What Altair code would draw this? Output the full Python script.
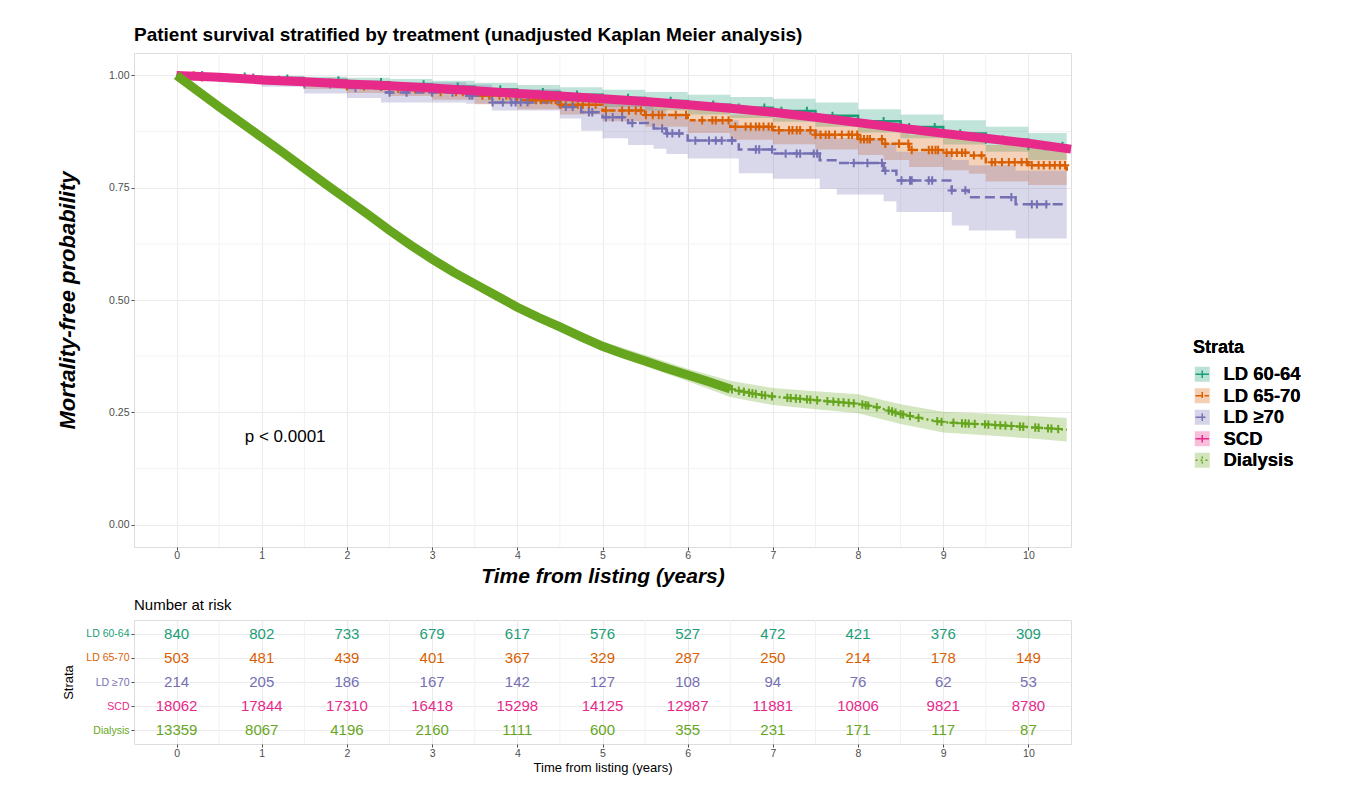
import altair as alt
import pandas as pd
import numpy as np

FONT = "Liberation Sans"
strata = ["LD 60-64", "LD 65-70", "LD ≥70", "SCD", "Dialysis"]
palette = ["#1B9E77", "#D95F02", "#7570B3", "#E7298A", "#66A61E"]
dashes = [[1, 0], [6, 3], [10, 5], [1, 0], [2, 3]]

# ---- survival curves ----
ld60_t = [0, 0.5, 1, 1.5, 2, 2.5, 3, 3.5, 4, 4.5, 5, 5.5, 6, 6.5, 7, 7.5, 8, 8.5, 9, 9.5, 10, 10.45]
ld60_s = [1.0, 0.997, 0.993, 0.989, 0.985, 0.98, 0.975, 0.969, 0.963, 0.957, 0.95, 0.943, 0.935, 0.928, 0.921, 0.91, 0.898, 0.885, 0.871, 0.857, 0.843, 0.83]
ld60_lo = [1.0, 0.993, 0.986, 0.98, 0.975, 0.969, 0.962, 0.955, 0.947, 0.94, 0.93, 0.922, 0.913, 0.905, 0.897, 0.886, 0.873, 0.86, 0.846, 0.83, 0.812, 0.798]
ld60_hi = [1.0, 1.0, 0.999, 0.997, 0.995, 0.992, 0.988, 0.984, 0.979, 0.974, 0.968, 0.963, 0.957, 0.952, 0.948, 0.94, 0.925, 0.913, 0.9, 0.886, 0.872, 0.862]

ld65_t = [0, 0.3, 0.6, 1, 1.5, 2, 2.5, 3, 3.5, 4, 4.5, 5, 5.5, 6, 6.5, 7, 7.5, 8, 8.3, 8.6, 9, 9.3, 9.5, 10, 10.45]
ld65_s = [1.0, 0.996, 0.993, 0.99, 0.984, 0.976, 0.97, 0.963, 0.955, 0.945, 0.935, 0.922, 0.912, 0.9, 0.886, 0.878, 0.868, 0.858, 0.848, 0.834, 0.828, 0.822, 0.807, 0.8, 0.788]
ld65_lo = [1.0, 0.99, 0.985, 0.98, 0.97, 0.961, 0.954, 0.946, 0.936, 0.925, 0.913, 0.898, 0.886, 0.872, 0.857, 0.847, 0.835, 0.823, 0.812, 0.796, 0.789, 0.781, 0.764, 0.756, 0.742]
ld65_hi = [1.0, 1.0, 0.999, 0.997, 0.993, 0.988, 0.983, 0.978, 0.971, 0.963, 0.954, 0.944, 0.935, 0.925, 0.913, 0.906, 0.898, 0.89, 0.881, 0.868, 0.863, 0.858, 0.845, 0.84, 0.83]

ld70_t = [0, 0.5, 1, 1.5, 2, 2.4, 3.4, 3.7, 4.5, 4.75, 5, 5.3, 5.6, 5.75, 6, 6.6, 7, 7.55, 7.75, 8.3, 8.45, 9.1, 9.3, 9.85, 10.45]
ld70_s = [1.0, 0.995, 0.99, 0.98, 0.972, 0.962, 0.955, 0.94, 0.93, 0.918, 0.907, 0.894, 0.882, 0.871, 0.855, 0.835, 0.826, 0.811, 0.805, 0.788, 0.766, 0.744, 0.729, 0.713, 0.713]
ld70_lo = [1.0, 0.985, 0.975, 0.96, 0.95, 0.94, 0.937, 0.922, 0.904, 0.877, 0.86, 0.845, 0.837, 0.825, 0.815, 0.782, 0.77, 0.748, 0.735, 0.72, 0.696, 0.666, 0.655, 0.637, 0.637]
ld70_hi = [1.0, 1.0, 0.999, 0.995, 0.99, 0.985, 0.98, 0.97, 0.962, 0.953, 0.945, 0.935, 0.925, 0.915, 0.9, 0.885, 0.878, 0.865, 0.86, 0.848, 0.83, 0.812, 0.8, 0.788, 0.788]

scd_t = [0, 0.5, 1, 1.5, 2, 2.5, 3, 3.5, 4, 4.5, 5, 5.5, 6, 6.5, 7, 7.5, 8, 8.5, 9, 9.5, 10, 10.5]
scd_s = [1.0, 0.996, 0.99, 0.986, 0.981, 0.977, 0.972, 0.966, 0.96, 0.954, 0.948, 0.942, 0.935, 0.927, 0.918, 0.907, 0.895, 0.883, 0.871, 0.86, 0.849, 0.836]
scd_lo = [1.0, 0.995, 0.988, 0.984, 0.979, 0.974, 0.969, 0.963, 0.957, 0.951, 0.944, 0.938, 0.931, 0.922, 0.913, 0.902, 0.89, 0.877, 0.865, 0.853, 0.842, 0.828]
scd_hi = [1.0, 0.997, 0.992, 0.988, 0.983, 0.98, 0.975, 0.969, 0.963, 0.957, 0.952, 0.946, 0.939, 0.932, 0.923, 0.912, 0.9, 0.889, 0.877, 0.867, 0.856, 0.844]

dia_t = [0, 0.25, 0.5, 0.75, 1, 1.25, 1.5, 1.75, 2, 2.25, 2.5, 2.75, 3, 3.25, 3.5, 3.75, 4, 4.25, 4.5, 4.75, 5, 5.25, 5.5, 5.75, 6, 6.25, 6.5, 6.75, 7, 7.25, 7.5, 7.75, 8, 8.25, 8.5, 8.75, 9, 9.25, 9.5, 9.75, 10, 10.25, 10.45]
dia_s = [1.0, 0.965, 0.93, 0.896, 0.862, 0.828, 0.793, 0.758, 0.724, 0.69, 0.655, 0.622, 0.591, 0.562, 0.536, 0.51, 0.484, 0.461, 0.44, 0.418, 0.397, 0.38, 0.364, 0.348, 0.333, 0.318, 0.302, 0.292, 0.285, 0.281, 0.277, 0.273, 0.269, 0.26, 0.246, 0.236, 0.228, 0.225, 0.223, 0.22, 0.217, 0.214, 0.211]
dia_bt = [0, 1, 2, 3, 4, 5, 6, 6.5, 7, 7.5, 8, 8.5, 9, 9.5, 10, 10.45]
dia_lo = [1.0, 0.856, 0.717, 0.583, 0.475, 0.386, 0.319, 0.284, 0.266, 0.257, 0.248, 0.224, 0.205, 0.199, 0.192, 0.185]
dia_hi = [1.0, 0.868, 0.731, 0.599, 0.493, 0.408, 0.347, 0.320, 0.304, 0.297, 0.290, 0.268, 0.251, 0.247, 0.242, 0.237]
dia_dense_until = 6.6

# ---- censoring times ----
cens_ld60 = [0.3, 0.8, 1.3, 1.9, 2.4, 2.9, 3.3, 3.8, 4.3, 4.7, 5.0, 5.3, 5.5, 5.8, 6.0, 6.3, 6.6, 6.9, 7.1, 7.4, 7.7, 8.0, 8.3, 8.6, 8.9, 9.2, 9.5, 9.7, 10.0, 10.2, 10.4]
cens_ld65 = [0.2, 0.3, 0.5, 0.9, 1.2, 1.5, 1.8, 2.0, 2.2, 2.4, 2.5, 2.6, 2.7, 2.8, 2.9, 3.0, 3.1,
             3.28, 3.36, 3.59, 3.67, 3.79, 3.87, 3.91, 3.98, 4.14, 4.22, 4.28, 4.34, 4.40, 4.45, 4.51, 4.57, 4.65, 4.71, 4.77, 4.84, 4.92, 5.04, 5.23, 5.31, 5.39, 5.45, 5.51, 5.59, 5.66, 5.70, 5.86, 5.98, 6.17, 6.29, 6.33, 6.41, 6.48, 6.56,
             6.68, 6.74, 6.80, 6.84, 6.89, 6.95, 6.99, 7.07, 7.19, 7.23, 7.28, 7.32, 7.44, 7.50, 7.56, 7.62, 7.66, 7.73, 7.81, 7.89, 7.93, 7.99, 8.03, 8.07, 8.11, 8.14, 8.28, 8.32, 8.48, 8.59, 8.63, 8.83, 8.87, 8.91, 8.94, 9.04, 9.10, 9.16, 9.22, 9.26, 9.36, 9.45, 9.57, 9.61, 9.69, 9.77, 9.84, 9.92, 9.98, 10.04, 10.12, 10.18, 10.25, 10.31, 10.37, 10.43]
cens_ld70 = [0.3, 0.6, 0.9, 1.2, 1.5, 1.8, 2.1, 2.5, 2.7, 3.0, 3.24, 3.44, 3.47, 3.71, 3.83, 3.93, 3.98, 4.04, 4.12, 4.57, 4.65, 4.84, 4.88, 5.04, 5.12, 5.23, 5.35, 5.70, 5.76, 5.82, 5.90, 6.09, 6.25, 6.33, 6.40, 6.52,
             6.80, 6.84, 6.99, 7.15, 7.28, 7.32, 7.48, 7.52, 7.95, 8.11, 8.28, 8.32, 8.51, 8.61, 8.63, 8.83, 8.87, 9.10, 9.26, 9.80, 10.04, 10.10, 10.21]
cens_dia = [6.52, 6.60, 6.66, 6.72, 6.76, 6.80, 6.87, 6.91, 6.99, 7.17, 7.21, 7.27, 7.32, 7.40, 7.44, 7.52, 7.64, 7.71, 7.77, 7.83, 7.89, 7.95, 8.05, 8.09, 8.12, 8.22, 8.36, 8.40, 8.44, 8.50, 8.53, 8.61, 8.71, 8.93, 8.98, 9.12, 9.22, 9.26, 9.30, 9.37, 9.49, 9.53, 9.61, 9.67, 9.73, 9.80, 9.90, 9.94, 10.08, 10.12, 10.23, 10.27, 10.35]

# ---- number at risk ----
risk_times = [0, 1, 2, 3, 4, 5, 6, 7, 8, 9, 10]
risk_ld60 = [840, 802, 733, 679, 617, 576, 527, 472, 421, 376, 309]
risk_ld65 = [503, 481, 439, 401, 367, 329, 287, 250, 214, 178, 149]
risk_ld70 = [214, 205, 186, 167, 142, 127, 108, 94, 76, 62, 53]
risk_scd = [18062, 17844, 17310, 16418, 15298, 14125, 12987, 11881, 10806, 9821, 8780]
risk_dia = [13359, 8067, 4196, 2160, 1111, 600, 355, 231, 171, 117, 87]

p_label = "p < 0.0001"
p_pos = (0.8, 0.196)

x_major = [0, 1, 2, 3, 4, 5, 6, 7, 8, 9, 10]
x_minor = [0.5, 1.5, 2.5, 3.5, 4.5, 5.5, 6.5, 7.5, 8.5, 9.5]
y_major = [0, 0.25, 0.5, 0.75, 1.0]
y_minor = [0.125, 0.375, 0.625, 0.875]

# ---- build tables ----
def step_at(ts, ss, x):
    i = int(np.searchsorted(ts, x, side="right")) - 1
    return ss[max(i, 0)]

SK = {n: n + " " for n in strata}  # stroke-legend keys (kept apart from the fill legend)

ld_lines, ld_bands, scd_line, dia_line, bands_sm, cens_ld, cens_d = [], [], [], [], [], [], []
for name, ts, ss, lo, hi, cz in [("LD 60-64", ld60_t, ld60_s, ld60_lo, ld60_hi, cens_ld60),
                                 ("LD 65-70", ld65_t, ld65_s, ld65_lo, ld65_hi, cens_ld65),
                                 ("LD ≥70", ld70_t, ld70_s, ld70_lo, ld70_hi, cens_ld70)]:
    for t, s, l, h in zip(ts, ss, lo, hi):
        ld_lines.append({"stratum": name, "sk": SK[name], "t": t, "s": s})
        ld_bands.append({"stratum": name, "t": t, "lo": l, "hi": h})
    for c in cz:
        cens_ld.append({"stratum": name, "sk": SK[name], "t": c, "s": step_at(ts, ss, c)})
for t, s, l, h in zip(scd_t, scd_s, scd_lo, scd_hi):
    scd_line.append({"stratum": "SCD", "sk": SK["SCD"], "t": t, "s": s})
    bands_sm.append({"stratum": "SCD", "t": t, "lo": l, "hi": h})
for t, s in zip(dia_t, dia_s):
    dia_line.append({"stratum": "Dialysis", "sk": SK["Dialysis"], "t": t, "s": s})
for t, l, h in zip(dia_bt, dia_lo, dia_hi):
    bands_sm.append({"stratum": "Dialysis", "t": t, "lo": l, "hi": h})
for c in cens_dia:
    cens_d.append({"stratum": "Dialysis", "sk": SK["Dialysis"], "t": c,
                   "s": float(np.interp(c, dia_t, dia_s))})

ld_lines = pd.DataFrame(ld_lines)
ld_bands = pd.DataFrame(ld_bands)
scd_line = pd.DataFrame(scd_line)
dia_line = pd.DataFrame(dia_line)
dia_dense = dia_line[dia_line.t <= dia_dense_until]
bands_sm = pd.DataFrame(bands_sm)
cens_ld = pd.DataFrame(cens_ld)
cens_d = pd.DataFrame(cens_d)

risk = pd.DataFrame([{"stratum": n, "t": t, "n": v}
                     for n, vals in zip(strata, [risk_ld60, risk_ld65, risk_ld70, risk_scd, risk_dia])
                     for t, v in zip(risk_times, vals)])

# ---- scales / axes ----
XS = alt.Scale(domain=[-0.5, 10.5], nice=False, zero=False)
YS = alt.Scale(domain=[-0.05, 1.05], nice=False, zero=False)
LEG_X, LEG_Y = 1059, 286

AX_MAIN = alt.Axis(values=x_major, title="Time from listing (years)", titleFontSize=21,
                   titleFontWeight="bold", titleFontStyle="italic", titleFont=FONT,
                   titleColor="black", labelFont=FONT, labelFontSize=10.5, labelColor="#4D4D4D",
                   tickColor="#4D4D4D", tickSize=3, labelPadding=0, titlePadding=5,
                   grid=True, gridColor="#EBEBEB", domain=False)
AY_MAIN = alt.Axis(values=y_major, format=".2f", title="Mortality-free probability",
                   titleFontSize=22, titleFontWeight="bold", titleFontStyle="italic",
                   titleFont=FONT, titleColor="black", labelFont=FONT, labelFontSize=10.5,
                   labelColor="#4D4D4D", tickColor="#4D4D4D", tickSize=3, labelPadding=2,
                   titlePadding=29, grid=True, gridColor="#EBEBEB", domain=False)

def X(field="t"):
    return alt.X(f"{field}:Q", scale=XS, axis=AX_MAIN, title="Time from listing (years)")

def Y(field="s"):
    return alt.Y(f"{field}:Q", scale=YS, axis=AY_MAIN, title="Mortality-free probability")

# both legends: symbols kept smaller than the label line so that rows are label-driven
common_leg = dict(title="Strata", orient="none", legendX=LEG_X, legendY=LEG_Y,
                  symbolSize=225, titleFontSize=18, labelFontSize=18.5,
                  titleFont=FONT, labelFont=FONT, labelFontWeight="bold", titleFontWeight="bold",
                  titleColor="black", labelColor="black", rowPadding=2.5, labelOffset=12,
                  titlePadding=8, labelLimit=300)
fill_enc = alt.Fill("stratum:N", scale=alt.Scale(domain=strata, range=palette),
                    legend=alt.Legend(symbolType="square", symbolOpacity=0.3, symbolStrokeWidth=0,
                                      **common_leg))
stroke_enc = alt.Stroke("sk:N", scale=alt.Scale(domain=[SK[n] for n in strata], range=palette),
                        legend=alt.Legend(symbolType="M-0.9,0H0.9M0,-0.5V0.5",
                                          symbolStrokeWidth=1.5, symbolFillColor="transparent",
                                          **common_leg))
dash_enc = alt.StrokeDash("sk:N", scale=alt.Scale(domain=[SK[n] for n in strata], range=dashes),
                          legend=None)

vgrid = alt.Chart(pd.DataFrame({"t": x_minor})).mark_rule(color="#F2F2F2", strokeWidth=1).encode(x=X())
hgrid = alt.Chart(pd.DataFrame({"s": y_minor})).mark_rule(color="#F2F2F2", strokeWidth=1).encode(y=Y())

band_ld = alt.Chart(ld_bands).mark_area(interpolate="step-after", opacity=0.28).encode(
    x=X(), y=Y("lo"), y2="hi:Q", fill=fill_enc)
band_sm = alt.Chart(bands_sm).mark_area(opacity=0.28).encode(
    x=X(), y=Y("lo"), y2="hi:Q", fill=fill_enc)

CROSS = "M-1,0H1M0,-1V1"
line_ld = alt.Chart(ld_lines).mark_line(interpolate="step-after", strokeWidth=2.5).encode(
    x=X(), y=Y(), stroke=stroke_enc, strokeDash=dash_enc, detail="sk:N")
cross_ld = alt.Chart(cens_ld).mark_point(shape=CROSS, filled=False, strokeWidth=2, size=70,
                                         opacity=1).encode(x=X(), y=Y(), stroke=stroke_enc)
line_scd = alt.Chart(scd_line).mark_line(strokeWidth=9).encode(x=X(), y=Y(), stroke=stroke_enc)
line_dia = alt.Chart(dia_line).mark_line(strokeWidth=2.5).encode(
    x=X(), y=Y(), stroke=stroke_enc, strokeDash=dash_enc)
line_dia_dense = alt.Chart(dia_dense).mark_line(strokeWidth=9).encode(x=X(), y=Y(), stroke=stroke_enc)
cross_d = alt.Chart(cens_d).mark_point(shape=CROSS, filled=False, strokeWidth=2, size=70,
                                       opacity=1).encode(x=X(), y=Y(), stroke=stroke_enc)

ptext = alt.Chart(pd.DataFrame({"t": [p_pos[0]], "s": [p_pos[1]], "label": [p_label]})).mark_text(
    align="left", baseline="middle", fontSize=17, font=FONT, color="black").encode(
    x=X(), y=Y(), text="label:N")

main = alt.layer(vgrid, hgrid, band_ld, band_sm, line_ld, cross_ld, line_scd,
                 line_dia, line_dia_dense, cross_d, ptext).properties(
    width=937, height=494,
    title=alt.Title("Patient survival stratified by treatment (unadjusted Kaplan Meier analysis)",
                    anchor="start", frame="group", fontSize=19, fontWeight="bold", font=FONT,
                    color="black", offset=8))

# ---- risk table ----
label_cond = [{"test": f"datum.value === '{n}'", "value": c} for n, c in zip(strata, palette)]
AX_TAB = alt.Axis(values=x_major, title="Time from listing (years)", titleFontSize=13,
                  titleFontWeight="normal", titleFont=FONT, titleColor="black",
                  labelFont=FONT, labelFontSize=10.5, labelColor="#4D4D4D",
                  tickColor="#4D4D4D", tickSize=3, labelPadding=1, titlePadding=3,
                  grid=True, gridColor="#EBEBEB", domain=False)
XT = lambda: alt.X("t:Q", scale=XS, axis=AX_TAB, title="Time from listing (years)")
tgrid = alt.Chart(pd.DataFrame({"t": x_minor})).mark_rule(color="#F2F2F2", strokeWidth=1).encode(x=XT())
ttext = alt.Chart(risk).mark_text(fontSize=15, font=FONT, baseline="middle").encode(
    x=XT(),
    y=alt.Y("stratum:N", sort=strata, scale=alt.Scale(type="point", domain=strata, padding=0.58),
            axis=alt.Axis(title="Strata", titleFontSize=13, titleFontWeight="normal", titleFont=FONT,
                          titleColor="black", labelFont=FONT, labelFontSize=10.5,
                          labelColor={"condition": label_cond, "value": "#4D4D4D"},
                          tickColor="#4D4D4D", tickSize=3, labelPadding=2, titlePadding=10,
                          grid=True, gridColor="#EBEBEB", domain=False)),
    text="n:Q",
    color=alt.Color("stratum:N", scale=alt.Scale(domain=strata, range=palette), legend=None))
table = alt.layer(tgrid, ttext).properties(
    width=937, height=124,
    title=alt.Title("Number at risk", anchor="start", frame="group", fontSize=15, fontWeight="normal",
                    font=FONT, color="black", offset=7))

chart = alt.vconcat(main, table, spacing=10).resolve_scale(
    color="independent").properties(
    padding={"left": 48, "top": 17, "right": 10, "bottom": 5}
).configure_view(stroke="#8A8A8A", strokeWidth=1).configure(background="white")

chart.save("out.html", embed_options={"renderer": "svg", "actions": False})
